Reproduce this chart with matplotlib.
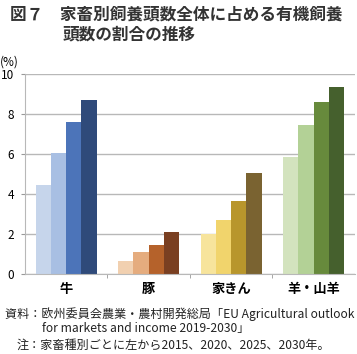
import matplotlib
matplotlib.use("Agg")
import matplotlib.pyplot as plt
import numpy as np

plt.rcParams['font.family'] = ['Noto Sans CJK JP', 'DejaVu Sans']

categories = ["牛", "豚", "家きん", "羊・山羊"]
years = ["2015", "2020", "2025", "2030"]
# share of organic livestock (%), per category, years 2015..2030
cattle = [4.43, 6.07, 7.62, 8.72]
pigs = [0.66, 1.08, 1.45, 2.10]
poultry = [1.98, 2.70, 3.66, 5.07]
sheep_goats = [5.86, 7.47, 8.62, 9.35]
values = [cattle, pigs, poultry, sheep_goats]

colors = [["#C6D5EB", "#A8BFE3", "#4C74B9", "#2F4A7A"],
          ["#F1D0B0", "#E5AC7E", "#B5622B", "#7A3F21"],
          ["#F7E49C", "#F1D46C", "#B8962C", "#7A6331"],
          ["#D3E3BE", "#B3D196", "#678A3C", "#45602D"]]

fig = plt.figure(figsize=(3.57, 3.54), dpi=100)
ax = fig.add_axes([0.07, 0.226, 0.924, 0.565])

w = 0.185
for g, vals in enumerate(values):
    for i, v in enumerate(vals):
        ax.bar(g + (i - 1.5) * w, v, width=w, color=colors[g][i], lw=0, zorder=2)

ax.set_xlim(-0.5, 3.5)
ax.set_ylim(0, 10)
ax.set_yticks(range(0, 11, 2))
ax.tick_params(axis="y", length=3, color="#999999", labelsize=8.5, pad=5)
ax.grid(axis="y", color="#B8B8B8", lw=1.0, zorder=0)
ax.set_xticks(range(4))
ax.set_xticklabels(categories, fontsize=9.5, fontweight="bold")
ax.tick_params(axis="x", length=0, pad=6)
ax.set_xticks([0.5, 1.5, 2.5], minor=True)
ax.tick_params(axis="x", which="minor", length=3, color="#999999")
for sp in ["top", "right"]:
    ax.spines[sp].set_visible(False)
ax.spines["left"].set_color("#B8B8B8")
ax.spines["bottom"].set_color("#B8B8B8")
fig.text(0.0, 0.825, "(%)", fontsize=8.5, ha="left", va="center")

fig.text(0.028, 0.985, "図７　家畜別飼養頭数全体に占める有機飼養", fontsize=12,
         fontweight="bold", color="#333333", va="top", ha="left")
fig.text(0.175, 0.927, "頭数の割合の推移", fontsize=12,
         fontweight="bold", color="#333333", va="top", ha="left")

fig.text(0.014, 0.112, "資料：欧州委員会農業・農村開発総局「EU Agricultural outlook",
         fontsize=8.7, va="center", ha="left", color="#222222")
fig.text(0.117, 0.072, "for markets and income 2019-2030」",
         fontsize=8.7, va="center", ha="left", color="#222222")
fig.text(0.045, 0.026, "注：家畜種別ごとに左から2015、2020、2025、2030年。",
         fontsize=8.7, va="center", ha="left", color="#222222")

fig.savefig("out.png", dpi=100)
